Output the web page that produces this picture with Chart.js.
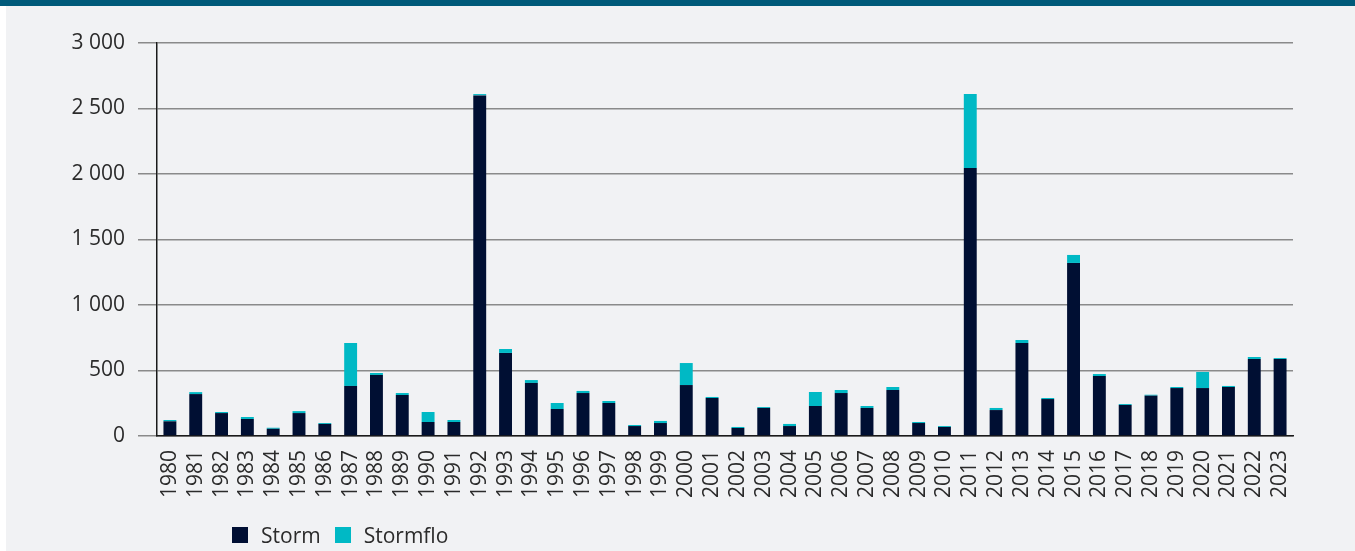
<!DOCTYPE html>
<html>
<head>
<meta charset="utf-8">
<script src="https://cdn.jsdelivr.net/npm/chart.js@4"></script>
<style>
  body { margin: 0; background: #ffffff; width: 1355px; height: 551px; position: relative; overflow: hidden; font-family: 'Open Sans', sans-serif; }
  #band { position: absolute; left: 0; top: 0; width: 1355px; height: 6px; background: #005a7a; }
  #wrap { position: absolute; left: 6px; top: 6px; width: 1349px; height: 545px; background: #f1f2f4; }
  #legend { position: absolute; left: 226px; top: 514px; height: 30px; display: flex; align-items: center; font-size: 21px; color: #2b2b2b; }
  #legend span.box { display: inline-block; width: 16px; height: 16px; margin-right: 13px; }
  #legend span.lbl { margin-right: 14px; }
</style>
</head>
<body>
<div id="band"></div>
<div id="wrap">
  <canvas id="grafica" width="1349" height="545"></canvas>
  <div id="legend">
    <span class="box" style="background:#000f33"></span><span class="lbl">Storm</span>
    <span class="box" style="background:#00b9c5"></span><span class="lbl">Stormflo</span>
  </div>
</div>
<script>
// år
const aar = [
  "1980","1981","1982","1983","1984","1985","1986","1987","1988","1989",
  "1990","1991","1992","1993","1994","1995","1996","1997","1998","1999",
  "2000","2001","2002","2003","2004","2005","2006","2007","2008","2009",
  "2010","2011","2012","2013","2014","2015","2016","2017","2018","2019",
  "2020","2021","2022","2023"
];

// storm
const storm = [
  112, 320, 175, 130, 55, 175, 92, 382, 466, 313,
  107, 107, 2600, 634, 405, 206, 328, 252, 76, 99,
  389, 290, 61, 214, 76, 229, 328, 214, 351, 99,
  69, 2046, 198, 710, 282, 1321, 458, 237, 308, 366,
  366, 374, 588, 588
];

// stormflo
const stormflo = [
  10, 15, 8, 15, 8, 15, 7, 328, 15, 15,
  76, 15, 10, 30, 22, 46, 16, 15, 8, 16,
  168, 8, 8, 7, 16, 107, 23, 15, 23, 8,
  7, 565, 16, 23, 8, 61, 15, 7, 7, 8,
  123, 8, 15, 7
];

const yTicks = [0, 500, 1000, 1500, 2000, 2500, 3000];

function formatTall(v) {
  return String(v).replace(/\B(?=(\d{3})+(?!\d))/g, " ");
}

Chart.defaults.font.family = "'Open Sans', sans-serif";
Chart.defaults.font.size = 21;
Chart.defaults.color = "#2b2b2b";

const ctx = document.getElementById("grafica").getContext("2d");

new Chart(ctx, {
  type: "bar",
  data: {
    labels: aar,
    datasets: [
      { label: "Storm", data: storm, backgroundColor: "#000f33", categoryPercentage: 1, barPercentage: 0.5 },
      { label: "Stormflo", data: stormflo, backgroundColor: "#00b9c5", categoryPercentage: 1, barPercentage: 0.5 }
    ]
  },
  options: {
    responsive: false,
    animation: false,
    layout: { padding: { left: 0, top: 37, right: 62, bottom: 0 } },
    plugins: {
      legend: { display: false },
      tooltip: { enabled: false }
    },
    scales: {
      x: {
        stacked: true,
        afterFit: s => { s.height = 115; },
        grid: { display: false, drawTicks: false },
        border: { display: true, color: "#1a1a1a", width: 1.5 },
        ticks: { autoSkip: false, minRotation: 90, maxRotation: 90, padding: 14 }
      },
      y: {
        stacked: true,
        min: yTicks[0],
        max: yTicks[yTicks.length - 1],
        afterFit: s => { s.width = 151; },
        afterBuildTicks: s => { s.ticks = yTicks.map(v => ({ value: v })); },
        grid: { color: "#8a8a8a", lineWidth: 1.5, tickLength: 19, drawTicks: true },
        border: { display: true, color: "#1a1a1a", width: 1.5 },
        ticks: { padding: 13, callback: v => formatTall(v) }
      }
    }
  }
});
</script>
</body>
</html>
